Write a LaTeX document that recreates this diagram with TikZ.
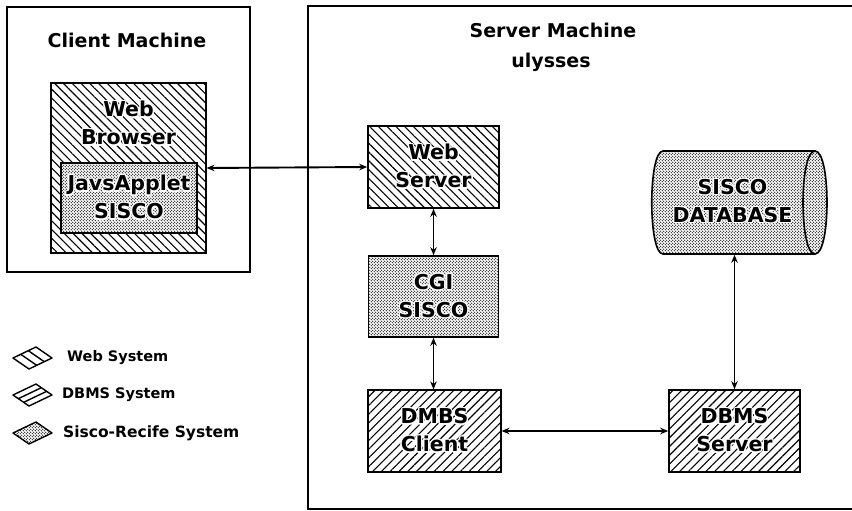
\documentclass[tikz,border=0pt]{standalone}
\usepackage{fontspec}
\setmainfont{DejaVu Sans}
\usepackage{contour}
\contourlength{1.3pt}
\contournumber{12}
\usetikzlibrary{patterns,patterns.meta,arrows.meta}
\pgfdeclarepatternformonly{siscodots}{\pgfqpoint{-1pt}{-1pt}}{\pgfqpoint{4pt}{4pt}}{\pgfqpoint{3pt}{3pt}}{%
 \pgfpathcircle{\pgfqpoint{0.75pt}{0.75pt}}{0.7pt}%
 \pgfpathcircle{\pgfqpoint{2.25pt}{2.25pt}}{0.7pt}%
 \pgfusepath{fill}}
\newcommand{\halo}[1]{\contour{white}{#1}}
\begin{document}
\begin{tikzpicture}[x=1pt,y=1pt,
 frame/.style={draw, line width=1.7pt},
 box/.style={draw, line width=1.6pt, inner sep=0pt, preaction={fill=white}},
 webpat/.style={pattern={Lines[angle=-45,distance=6.2pt,line width=1.1pt]}},
 dbpat/.style={pattern={Lines[angle=45,distance=6.2pt,line width=1.1pt]}},
 siscopat/.style={pattern=siscodots},
 boxtext/.style={font=\fontsize{20.5}{28}\selectfont\bfseries, align=center, inner sep=0pt},
 title/.style={font=\fontsize{19}{22}\selectfont\bfseries, inner sep=0pt},
 legtext/.style={font=\fontsize{14.5}{17}\selectfont\bfseries, anchor=west, inner sep=0pt},
 conn/.style={line width=1.9pt, {Stealth[length=8pt,width=6.5pt]}-{Stealth[length=8pt,width=6.5pt]}},
 icon/.style={draw, line width=1.4pt, line join=round},
]
\useasboundingbox (0,0) rectangle (852,-511);

% machine frames
\draw[frame] (7,-7) rectangle (250,-272);
\begin{scope}
\clip (0,0) rectangle (852,-511);
\draw[frame] (308,-6) rectangle (880,-509);
\end{scope}
\node[title] (tclient) at (127,-40) {Client Machine};
\node[title] (tserver) at (553,-30) {Server Machine};
\node[title] (tulysses) at (551,-62) {ulysses};

% client side
\node[box, webpat, minimum width=155pt, minimum height=170pt] (wb) at (128.5,-168) {};
\node[boxtext] (wbt) at (128.5,-124) {\halo{Web}\\\halo{Browser}};
\node[box, siscopat, boxtext, minimum width=136pt, minimum height=70pt] (ja) at (129,-198) {\halo{JavsApplet}\\\halo{SISCO}};

% server side
\node[box, webpat, boxtext, minimum width=131pt, minimum height=82pt] (ws) at (433.5,-167) {\halo{Web}\\\halo{Server}};
\node[box, siscopat, boxtext, minimum width=130pt, minimum height=81pt] (cgi) at (433.5,-296.5) {\halo{CGI}\\\halo{SISCO}};
\node[box, dbpat, boxtext, minimum width=133pt, minimum height=82pt] (dc) at (434.5,-431) {\halo{DMBS}\\\halo{Client}};
\node[box, dbpat, boxtext, minimum width=131pt, minimum height=82pt] (dbs) at (734.5,-431) {\halo{DBMS}\\\halo{Server}};

% database cylinder
\path[draw, line width=1.6pt, siscopat, preaction={fill=white}]
  (663,-151) -- (815,-151) .. controls (831,-151) and (831,-254) .. (815,-254)
  -- (663,-254) .. controls (648,-254) and (648,-151) .. (663,-151) -- cycle;
\draw[line width=1.6pt] (815,-254) .. controls (799,-254) and (799,-151) .. (815,-151);
\node[minimum width=176pt, minimum height=103pt, inner sep=0pt, outer sep=0.8pt] (dbshape) at (740,-202.5) {};
\node[boxtext] (db) at (732.5,-201.5) {\halo{SISCO}\\\halo{DATABASE}};

% connectors
\draw[conn] (wb.east) -- (ws.west);
\draw[conn] (ws.south) -- (cgi.north);
\draw[conn] (cgi.south) -- (cgi.south |- dc.north);
\draw[conn] (dc.east) -- (dbs.west);
\draw[conn] (dbs.north |- dbshape.south) -- (dbs.north);

% legend
\draw[icon] (13,-358) -- (36,-347) -- (52,-358) -- (29,-369) -- cycle;
\draw[icon] (20.7,-354.3) -- (36.7,-365.3) (28.3,-350.7) -- (44.3,-361.7);
\node[legtext] (lweb) at (67,-358) {Web System};

\draw[icon] (13,-395) -- (36,-384) -- (52,-395) -- (29,-406) -- cycle;
\draw[icon] (18.3,-398.7) -- (41.3,-387.7) (23.7,-402.3) -- (46.7,-391.3);
\node[legtext] (ldbms) at (62,-395) {DBMS System};

\draw[icon, siscopat] (13,-433) -- (36,-422) -- (52,-433) -- (29,-444) -- cycle;
\node[legtext, font=\fontsize{15.5}{17}\selectfont\bfseries] (lsisco) at (63,-433) {Sisco-Recife System};
\end{tikzpicture}
\end{document}
